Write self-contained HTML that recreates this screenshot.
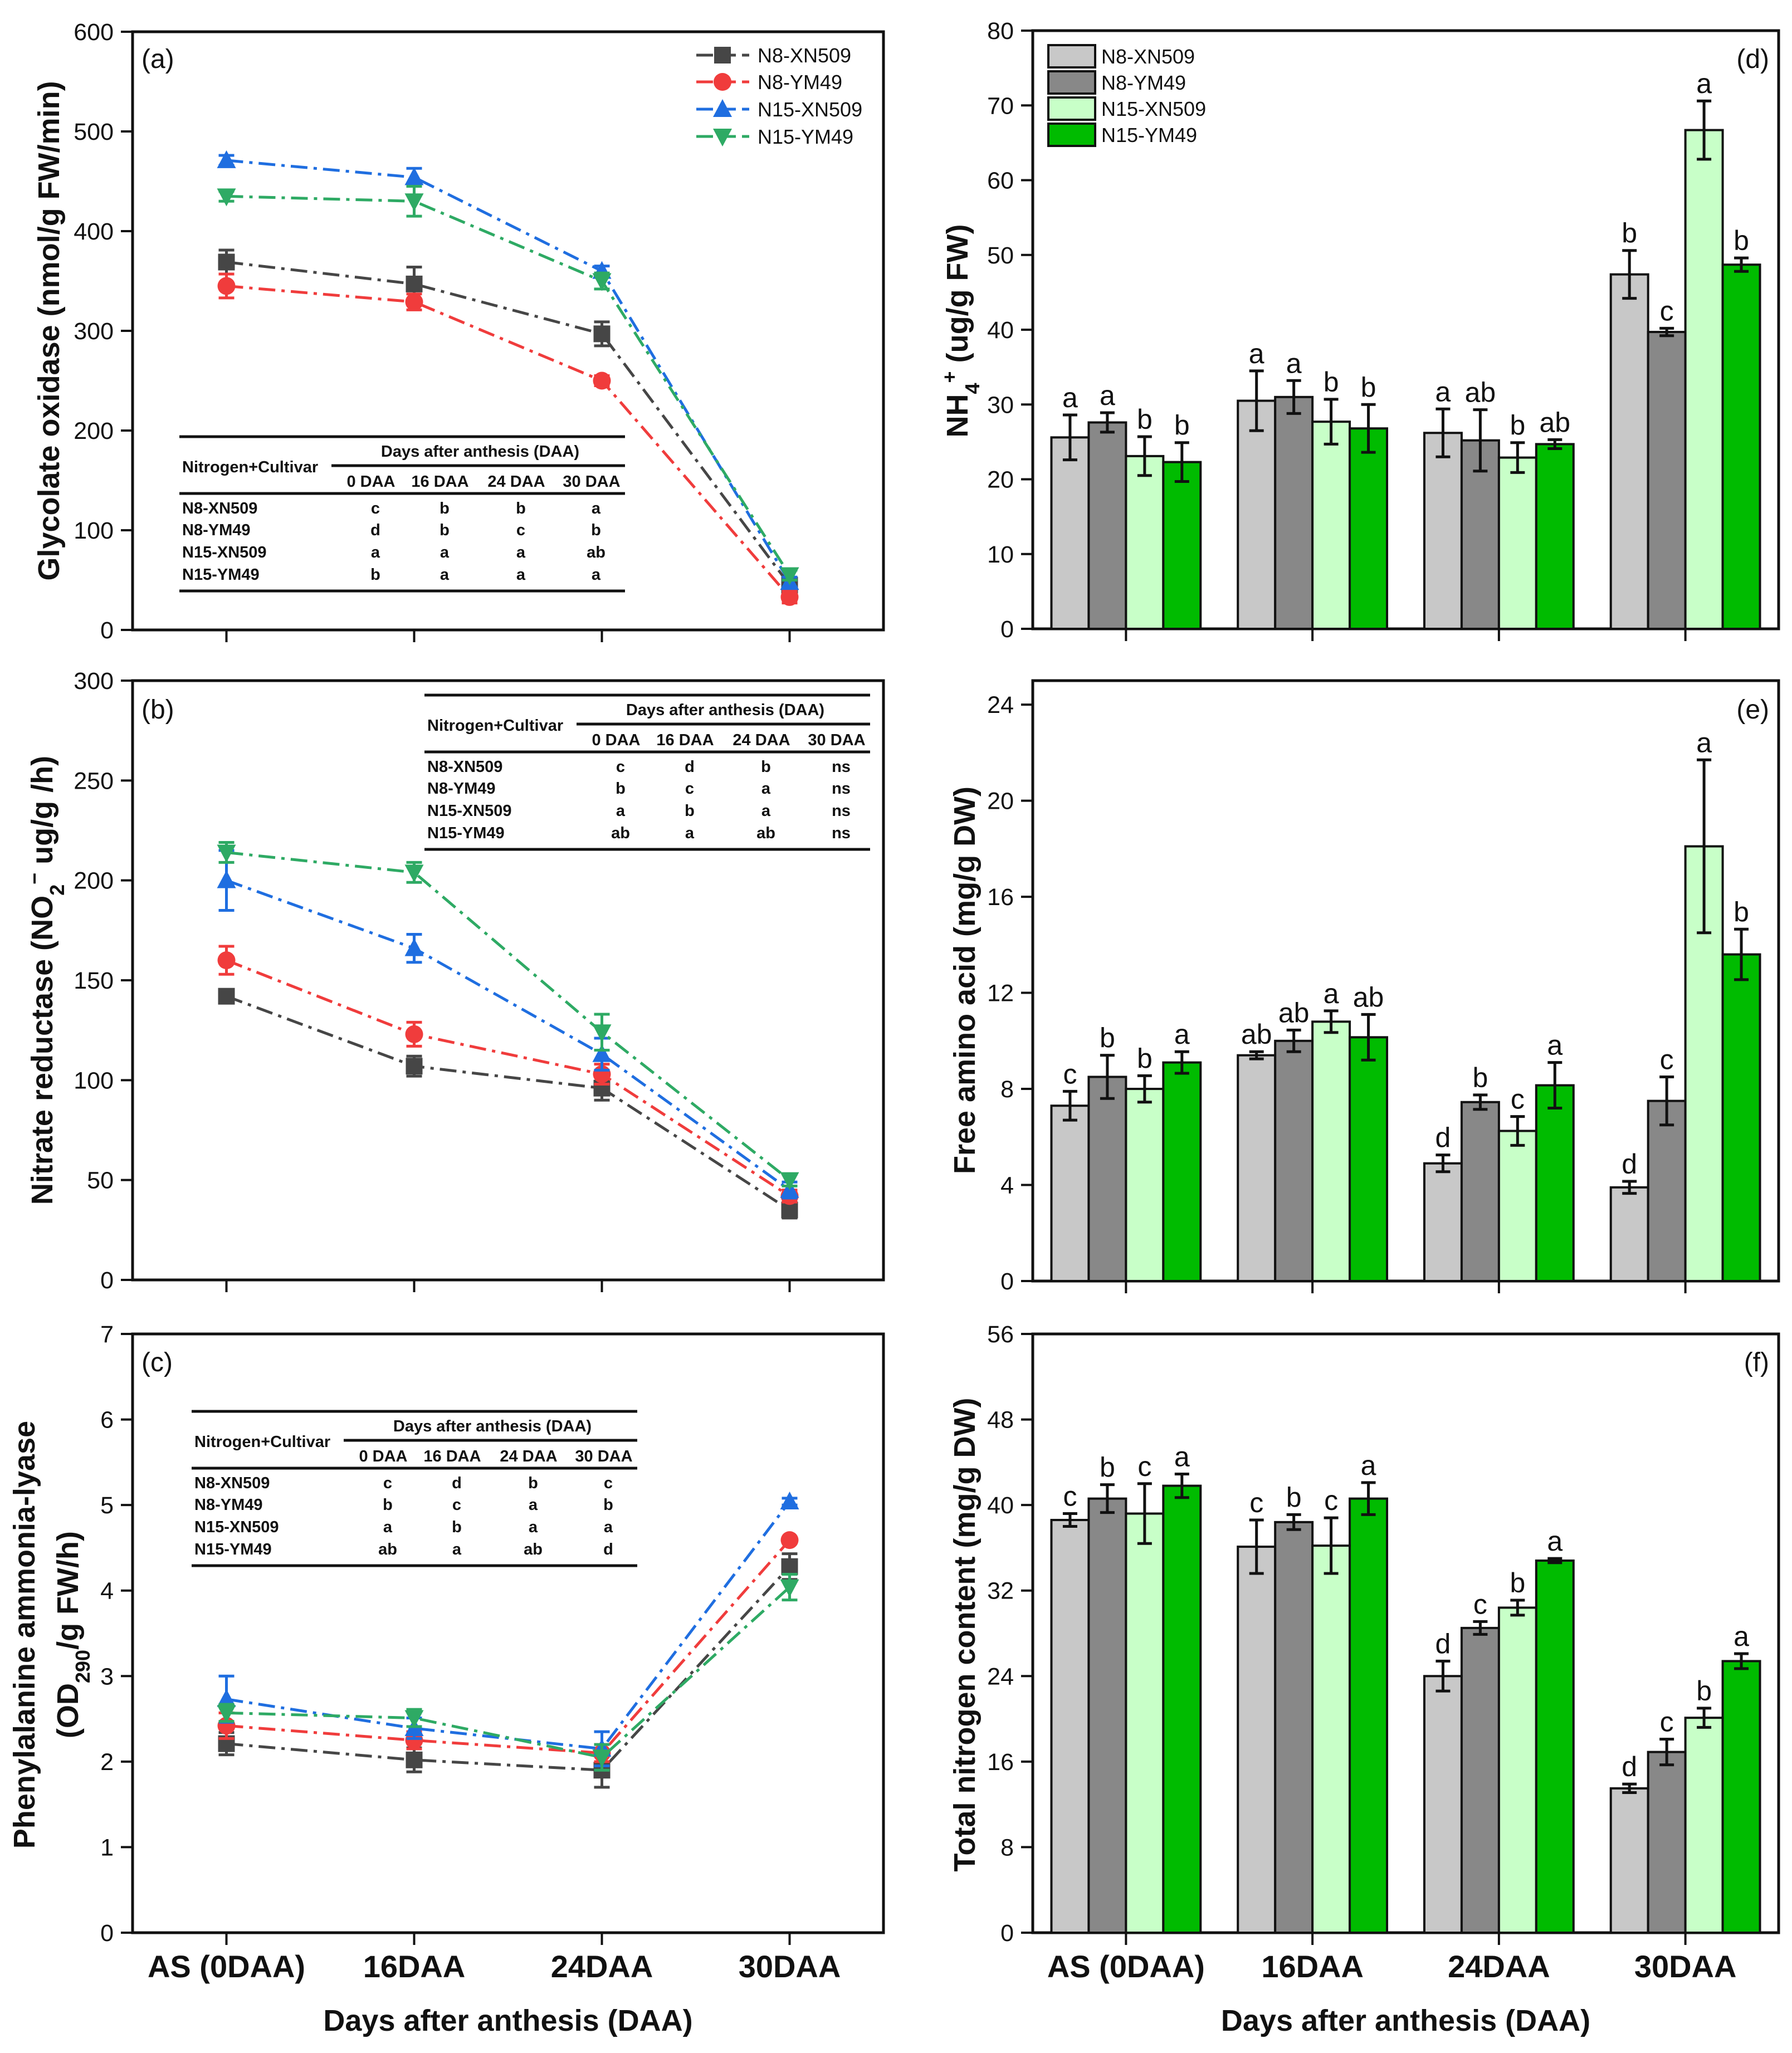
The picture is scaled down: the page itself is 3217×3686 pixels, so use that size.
<!DOCTYPE html>
<html><head><meta charset="utf-8"><title>Nitrogen metabolism figure</title>
<style>html,body{margin:0;padding:0;background:#fff}svg{display:block}</style></head>
<body>
<svg id="fig" xmlns="http://www.w3.org/2000/svg" width="3217" height="3686" viewBox="0 0 3217 3686" font-family="Liberation Sans, Arial, sans-serif"></svg>
<script>
// ---------- shared data ----------
const categories = ["AS (0DAA)", "16DAA", "24DAA", "30DAA"];
const seriesNames = ["N8-XN509", "N8-YM49", "N15-XN509", "N15-YM49"];

// (a) Glycolate oxidase
const goN8XN509 = [369, 347, 297, 45];
const goN8YM49 = [345, 329, 250, 33];
const goN15XN509 = [471, 454, 360, 48];
const goN15YM49 = [435, 430, 350, 55];
const goErrN8XN509 = [12, 17, 12, 5];
const goErrN8YM49 = [12, 8, 5, 6];
const goErrN15XN509 = [5, 9, 5, 5];
const goErrN15YM49 = [5, 15, 8, 5];
const goTicks = [0, 100, 200, 300, 400, 500, 600];
const goTable = [["c","b","b","a"],["d","b","c","b"],["a","a","a","ab"],["b","a","a","a"]];

// (b) Nitrate reductase
const nrN8XN509 = [142, 107, 96, 35];
const nrN8YM49 = [160, 123, 103, 42];
const nrN15XN509 = [200, 166, 113, 45];
const nrN15YM49 = [214, 204, 124, 50];
const nrErrN8XN509 = [3, 5, 6, 4];
const nrErrN8YM49 = [7, 6, 5, 3];
const nrErrN15XN509 = [15, 7, 8, 4];
const nrErrN15YM49 = [5, 5, 9, 3];
const nrTicks = [0, 50, 100, 150, 200, 250, 300];
const nrTable = [["c","d","b","ns"],["b","c","a","ns"],["a","b","a","ns"],["ab","a","ab","ns"]];

// (c) Phenylalanine ammonia-lyase
const palN8XN509 = [2.21, 2.02, 1.90, 4.28];
const palN8YM49 = [2.42, 2.25, 2.10, 4.59];
const palN15XN509 = [2.73, 2.39, 2.15, 5.04];
const palN15YM49 = [2.57, 2.51, 2.05, 4.04];
const palErrN8XN509 = [0.13, 0.14, 0.2, 0.15];
const palErrN8YM49 = [0.15, 0.1, 0.1, 0.03];
const palErrN15XN509 = [0.27, 0.12, 0.2, 0.04];
const palErrN15YM49 = [0.1, 0.1, 0.15, 0.15];
const palTicks = [0, 1, 2, 3, 4, 5, 6, 7];
const palTable = [["c","d","b","c"],["b","c","a","b"],["a","b","a","a"],["ab","a","ab","d"]];

// (d) NH4+
const nhN8XN509 = [25.6, 30.5, 26.2, 47.4];
const nhN8YM49 = [27.6, 31.0, 25.2, 39.7];
const nhN15XN509 = [23.1, 27.7, 22.9, 66.7];
const nhN15YM49 = [22.3, 26.8, 24.7, 48.7];
const nhErrN8XN509 = [3.0, 4.0, 3.2, 3.2];
const nhErrN8YM49 = [1.3, 2.2, 4.1, 0.5];
const nhErrN15XN509 = [2.6, 3.0, 2.0, 3.9];
const nhErrN15YM49 = [2.6, 3.2, 0.6, 0.9];
const nhTicks = [0, 10, 20, 30, 40, 50, 60, 70, 80];
const nhLetters = [["a","a","b","b"],["a","a","b","b"],["a","ab","b","ab"],["b","c","a","b"]];

// (e) Free amino acid
const faN8XN509 = [7.3, 9.4, 4.9, 3.9];
const faN8YM49 = [8.5, 10.0, 7.45, 7.5];
const faN15XN509 = [8.0, 10.8, 6.25, 18.1];
const faN15YM49 = [9.1, 10.15, 8.15, 13.6];
const faErrN8XN509 = [0.6, 0.15, 0.35, 0.25];
const faErrN8YM49 = [0.9, 0.45, 0.3, 1.0];
const faErrN15XN509 = [0.55, 0.45, 0.6, 3.6];
const faErrN15YM49 = [0.45, 0.95, 0.95, 1.05];
const faTicks = [0, 4, 8, 12, 16, 20, 24];
const faLetters = [["c","b","b","a"],["ab","ab","a","ab"],["d","b","c","a"],["d","c","a","b"]];

// (f) Total nitrogen content
const tnN8XN509 = [38.6, 36.1, 24.0, 13.5];
const tnN8YM49 = [40.6, 38.4, 28.5, 16.9];
const tnN15XN509 = [39.2, 36.2, 30.4, 20.1];
const tnN15YM49 = [41.8, 40.6, 34.8, 25.4];
const tnErrN8XN509 = [0.6, 2.5, 1.4, 0.4];
const tnErrN8YM49 = [1.3, 0.7, 0.6, 1.2];
const tnErrN15XN509 = [2.8, 2.6, 0.7, 0.9];
const tnErrN15YM49 = [1.1, 1.5, 0.2, 0.7];
const tnTicks = [0, 8, 16, 24, 32, 40, 48, 56];
const tnLetters = [["c","b","c","a"],["c","b","c","a"],["d","c","b","a"],["d","c","b","a"]];

// ---------- drawing ----------
const NS = "http://www.w3.org/2000/svg";
const svg = document.getElementById("fig");
function mk(tag, attrs, parent) {
  const e = document.createElementNS(NS, tag);
  for (const k in attrs) e.setAttribute(k, attrs[k]);
  (parent || svg).appendChild(e);
  return e;
}
const lineColors = ["#464646", "#f03c3c", "#1f6ee0", "#2eaa64"];
const barColors = ["#c8c8c8", "#888888", "#c8ffc8", "#00bb00"];

function makeAxes(p) {
  const g = mk("g", {});
  
  
  const fr = mk("rect", {x: p.left, y: p.top, width: p.right - p.left, height: p.bottom - p.top, fill: "none", stroke: "#111", "stroke-width": 5}, g);
  
  
  const step = (p.right - p.left) / 4;
  p.x = i => p.left + (i + 0.5) * step;
  p.y = v => p.bottom - (v / p.max) * (p.bottom - p.top);
  p.step = step;
  for (let i = 0; i < categories.length; i++) {
    const t = mk("line", {x1: p.x(i), x2: p.x(i), y1: p.bottom, y2: p.bottom + 22, stroke: "#111", "stroke-width": 4}, g);
    
    
    if (p.xlabels) {
      const tl = mk("text", {x: p.x(i), y: 3550, "text-anchor": "middle", "font-size": 56, "font-weight": "bold", fill: "#111"}, g);
      tl.textContent = categories[i];
      
      
    }
  }
  for (const v of p.ticks) {
    const t = mk("line", {x1: p.left - 21, x2: p.left, y1: p.y(v), y2: p.y(v), stroke: "#111", "stroke-width": 4}, g);
    
    
    const tl = mk("text", {x: p.left - 34, y: p.y(v) + 15, "text-anchor": "end", "font-size": 43, fill: "#111"}, g);
    tl.textContent = v;
    
    
  }
  const pl = mk("text", {x: p.plx, y: p.ply, "text-anchor": p.plAnchor, "font-size": 48, fill: "#111"}, g);
  pl.textContent = p.label;
  
  
  if (p.xlabels) {
    const xt = mk("text", {x: (p.left + p.right) / 2, y: 3646, "text-anchor": "middle", "font-size": 54, "font-weight": "bold", fill: "#111"}, g);
    xt.textContent = "Days after anthesis (DAA)";
    
    
  }
  return g;
}

function yTitle(g, x, y, parts) {
  const t = mk("text", {x: 0, y: 0, transform: `translate(${x},${y}) rotate(-90)`, "text-anchor": "middle", "font-size": 54, "font-weight": "bold", fill: "#111"}, g);
  for (const pt of parts) {
    const s = mk("tspan", {}, t);
    if (pt.sub) { s.setAttribute("baseline-shift", "sub"); s.setAttribute("font-size", 36); }
    if (pt.sup) { s.setAttribute("baseline-shift", "super"); s.setAttribute("font-size", 36); }
    s.textContent = pt.t;
  }
  
  
  return t;
}

function marker(g, kind, cx, cy, color) {
  let m;
  const r = 15;
  if (kind === 0) m = mk("rect", {x: cx - r, y: cy - r, width: 2 * r, height: 2 * r, fill: color}, g);
  else if (kind === 1) m = mk("circle", {cx: cx, cy: cy, r: r + 1, fill: color}, g);
  else if (kind === 2) m = mk("polygon", {points: `${cx},${cy - r - 3} ${cx + r + 2},${cy + r - 1} ${cx - r - 2},${cy + r - 1}`, fill: color}, g);
  else m = mk("polygon", {points: `${cx},${cy + r + 3} ${cx + r + 2},${cy - r + 1} ${cx - r - 2},${cy - r + 1}`, fill: color}, g);
  return m;
}

function lineSeries(p, vals, errs) {
  for (let s = 0; s < vals.length; s++) {
    const g = mk("g", {});
    
    
    const pts = vals[s].map((v, i) => `${p.x(i)},${p.y(v)}`).join(" ");
    const pl = mk("polyline", {points: pts, fill: "none", stroke: lineColors[s], "stroke-width": 5, "stroke-dasharray": "30,11,6,11"}, g);
    
    
    for (let i = 0; i < vals[s].length; i++) {
      const cx = p.x(i), v = vals[s][i], e = errs[s][i];
      const eb = mk("path", {d: `M${cx},${p.y(v + e)}V${p.y(v - e)}M${cx - 14},${p.y(v + e)}H${cx + 14}M${cx - 14},${p.y(v - e)}H${cx + 14}`, stroke: lineColors[s], "stroke-width": 5, fill: "none"}, g);
      
      
      const m = marker(g, s, cx, p.y(v), lineColors[s]);
      
      
    }
  }
}

function barSeries(p, vals, errs, letters) {
  const bw = p.step * 0.2;
  for (let s = 0; s < vals.length; s++) {
    const g = mk("g", {});
    
    
    for (let i = 0; i < vals[s].length; i++) {
      const cx = p.x(i) + (s - 1.5) * bw, v = vals[s][i], e = errs[s][i];
      const b = mk("rect", {x: cx - bw / 2, y: p.y(v), width: bw, height: p.bottom - p.y(v), fill: barColors[s], stroke: "#111", "stroke-width": 4}, g);
      
      
      const eb = mk("path", {d: `M${cx},${p.y(v + e)}V${p.y(v - e)}M${cx - 13},${p.y(v + e)}H${cx + 13}M${cx - 13},${p.y(v - e)}H${cx + 13}`, stroke: "#111", "stroke-width": 5, fill: "none"}, g);
      
      
      const lt = mk("text", {x: cx, y: p.y(v + e) - 14, "text-anchor": "middle", "font-size": 50, fill: "#111"}, g);
      lt.textContent = letters[i][s];
      
      
    }
  }
}

function table(left, top, rows) {
  const g = mk("g", {"font-family": "Liberation Sans Narrow, Liberation Sans, sans-serif", "font-weight": "bold", fill: "#111"});
  
  
  const w = 800;
  const hl = (y, x1, sw) => { const l = mk("line", {x1: left + x1, x2: left + w, y1: top + y, y2: top + y, stroke: "#111", "stroke-width": sw}, g);   };
  hl(0, 0, 5); hl(52, 273, 5); hl(102, 0, 5); hl(277, 0, 5);
  const tx = (x, y, s, anchor) => { const t = mk("text", {x: left + x, y: top + y, "text-anchor": anchor, "font-size": 29}, g); t.textContent = s;   return t; };
  tx(540, 36, "Days after anthesis (DAA)", "middle");
  tx(5, 64, "Nitrogen+Cultivar", "start");
  const cols = [344, 468, 605, 740];
  const heads = ["0 DAA", "16 DAA", "24 DAA", "30 DAA"];
  for (let c = 0; c < 4; c++) tx(cols[c], 90, heads[c], "middle");
  const ry = [138, 177, 217, 257];
  for (let r = 0; r < 4; r++) {
    tx(5, ry[r], seriesNames[r], "start");
    for (let c = 0; c < 4; c++) tx(cols[c] + 8, ry[r], rows[r][c], "middle");
  }
}

// panels
const L = {left: 238, right: 1586}, R = {left: 1854, right: 3193};
const pa = {name: "panel-a-glycolate-oxidase", label: "(a)", ...L, top: 57, bottom: 1131, max: 600, ticks: goTicks, plx: 254, ply: 122, plAnchor: "start"};
const pb = {name: "panel-b-nitrate-reductase", label: "(b)", ...L, top: 1222, bottom: 2298, max: 300, ticks: nrTicks, plx: 254, ply: 1290, plAnchor: "start"};
const pc = {name: "panel-c-phenylalanine-ammonia-lyase", label: "(c)", ...L, top: 2395, bottom: 3470, max: 7, ticks: palTicks, plx: 254, ply: 2462, plAnchor: "start", xlabels: true};
const pd = {name: "panel-d-ammonium", label: "(d)", ...R, top: 55, bottom: 1129, max: 80, ticks: nhTicks, plx: 3176, ply: 122, plAnchor: "end"};
const pe = {name: "panel-e-free-amino-acid", label: "(e)", ...R, top: 1222, bottom: 2300, max: 25, ticks: faTicks, plx: 3176, ply: 1290, plAnchor: "end"};
const pf = {name: "panel-f-total-nitrogen", label: "(f)", ...R, top: 2395, bottom: 3470, max: 56, ticks: tnTicks, plx: 3176, ply: 2462, plAnchor: "end", xlabels: true};

const ga = makeAxes(pa);
yTitle(ga, 106, 594, [{t: "Glycolate oxidase (nmol/g FW/min)"}]);
table(322, 784, goTable);
lineSeries(pa, [goN8XN509, goN8YM49, goN15XN509, goN15YM49], [goErrN8XN509, goErrN8YM49, goErrN15XN509, goErrN15YM49]);
// legend (a)
const lg = mk("g", {});


const legY = [99, 147, 196, 245];
for (let s = 0; s < 4; s++) {
  const e = mk("g", {}, lg);
  
  
  mk("line", {x1: 1250, x2: 1345, y1: legY[s], y2: legY[s], stroke: lineColors[s], "stroke-width": 5, "stroke-dasharray": "30,11"}, e);
  marker(e, s, 1297, legY[s], lineColors[s]);
  const t = mk("text", {x: 1360, y: legY[s] + 13, "font-size": 36, fill: "#111"}, e);
  t.textContent = seriesNames[s];
}

const gb = makeAxes(pb);
yTitle(gb, 94, 1760, [{t: "Nitrate reductase (NO"}, {t: "2", sub: true}, {t: "−", sup: true}, {t: " ug/g /h)"}]);
table(762, 1248, nrTable);
lineSeries(pb, [nrN8XN509, nrN8YM49, nrN15XN509, nrN15YM49], [nrErrN8XN509, nrErrN8YM49, nrErrN15XN509, nrErrN15YM49]);

const gc = makeAxes(pc);
yTitle(gc, 62, 2935, [{t: "Phenylalanine ammonia-lyase"}]);
yTitle(gc, 140, 2935, [{t: "(OD"}, {t: "290", sub: true}, {t: "/g FW/h)"}]);
table(344, 2534, palTable);
lineSeries(pc, [palN8XN509, palN8YM49, palN15XN509, palN15YM49], [palErrN8XN509, palErrN8YM49, palErrN15XN509, palErrN15YM49]);

const gd = makeAxes(pd);
yTitle(gd, 1737, 594, [{t: "NH"}, {t: "4", sub: true}, {t: "+", sup: true}, {t: " (ug/g FW)"}]);
barSeries(pd, [nhN8XN509, nhN8YM49, nhN15XN509, nhN15YM49], [nhErrN8XN509, nhErrN8YM49, nhErrN15XN509, nhErrN15YM49], nhLetters);
const lg2 = mk("g", {});


const leg2Y = [81, 128, 175, 222];
for (let s = 0; s < 4; s++) {
  const e = mk("g", {}, lg2);
  
  
  mk("rect", {x: 1882, y: leg2Y[s], width: 84, height: 40, fill: barColors[s], stroke: "#111", "stroke-width": 4}, e);
  const t = mk("text", {x: 1977, y: leg2Y[s] + 33, "font-size": 36, fill: "#111"}, e);
  t.textContent = seriesNames[s];
}

const ge = makeAxes(pe);
yTitle(ge, 1750, 1760, [{t: "Free amino acid (mg/g DW)"}]);
barSeries(pe, [faN8XN509, faN8YM49, faN15XN509, faN15YM49], [faErrN8XN509, faErrN8YM49, faErrN15XN509, faErrN15YM49], faLetters);

const gf = makeAxes(pf);
yTitle(gf, 1750, 2935, [{t: "Total nitrogen content (mg/g DW)"}]);
barSeries(pf, [tnN8XN509, tnN8YM49, tnN15XN509, tnN15YM49], [tnErrN8XN509, tnErrN8YM49, tnErrN15XN509, tnErrN15YM49], tnLetters);
</script>
</body></html>
